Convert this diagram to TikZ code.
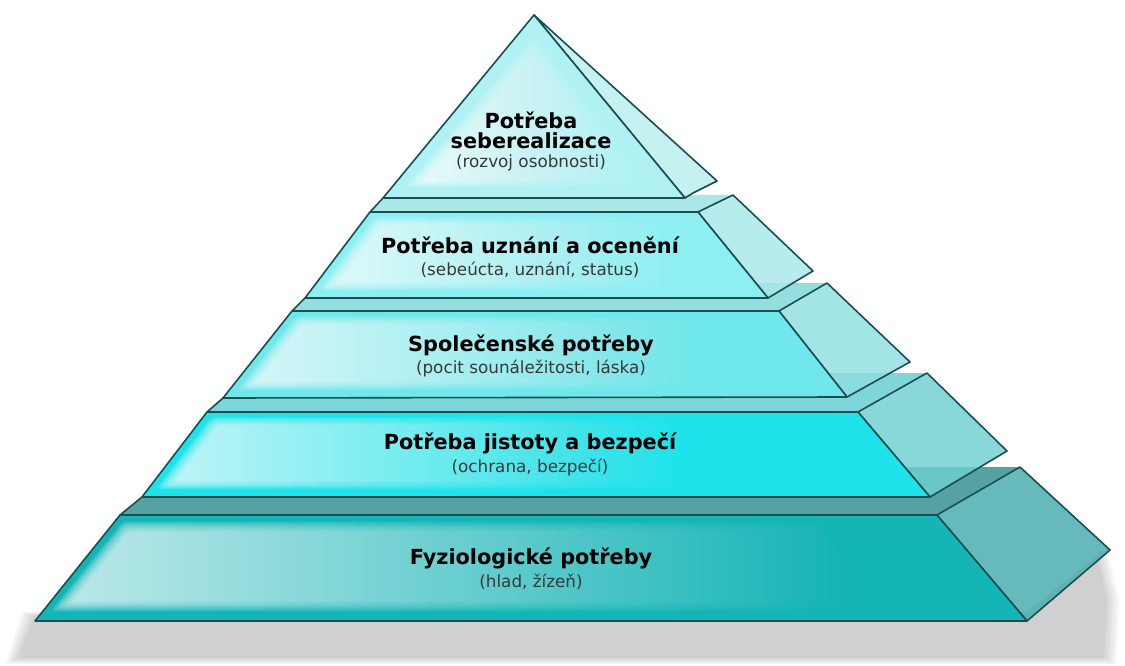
\documentclass[tikz,border=0pt]{standalone}
\usepackage{fontspec}
\setmainfont{DejaVu Sans}
\usetikzlibrary{calc}
\definecolor{edgec}{HTML}{1A4E50}
\definecolor{f1}{HTML}{B0F2F4}
\definecolor{s1}{HTML}{B8EEEE}
\definecolor{f2}{HTML}{8DEFF2}
\definecolor{p2}{HTML}{A9E7E7}
\definecolor{s2}{HTML}{A6E8EA}
\definecolor{f3}{HTML}{6FE7EB}
\definecolor{p3}{HTML}{94DEDF}
\definecolor{s3}{HTML}{8FDEE0}
\definecolor{f4}{HTML}{1FE3EA}
\definecolor{p4}{HTML}{7ED6D8}
\definecolor{s4}{HTML}{6ECFD2}
\definecolor{f5}{HTML}{13B5B7}
\definecolor{p5}{HTML}{56A2A3}
\definecolor{s5}{HTML}{45ABAD}
\tikzset{
  edgeline/.style={draw=edgec, line width=1.6pt, line join=round},
  frontface/.style={edgeline, fill=#1},
  sideface/.style={edgeline, fill=#1, fill opacity=0.82},
  platformface/.style={fill=#1},
  glosslayer/.style={left color=white, right color=#1, fill opacity=0.15, rounded corners=5pt},
  lvltitle/.style={font=\bfseries\fontsize{20.8}{24}\selectfont, text=black, inner sep=0pt},
  lvlsub/.style={font=\fontsize{16.8}{19}\selectfont, text=black!78, inner sep=0pt},
}
% #1 tl, #2 tr, #3 br, #4 bl, #5 fraction of width covered, #6 base colour
\newcommand\glossquad[6]{%
  \foreach \k in {0,...,7}{%
    \path ($(#1)!{0.06+0.014*\k}!(#4)$) coordinate (g1)
          ($(#2)!{0.06+0.014*\k}!(#3)$) coordinate (g2)
          ($(#2)!{0.91-0.014*\k}!(#3)$) coordinate (g3)
          ($(#1)!{0.91-0.014*\k}!(#4)$) coordinate (g4);
    \shade[glosslayer=#6] ($(g1)+({8+2*\k},0)$) -- ($(g1)!#5!(g2)$) -- ($(g4)!#5!(g3)$) -- ($(g4)+({8+2*\k},0)$) -- cycle;
  }}
\begin{document}
\begin{tikzpicture}[x=1pt,y=-1pt]
\useasboundingbox (0,0) rectangle (1125,666);
% coordinates
\coordinate (A) at (534,15);
\coordinate (T1l) at (383,198); \coordinate (T1r) at (685,198);
\coordinate (S1f) at (717,181); \coordinate (S1b) at (693,193);
\coordinate (L2tl) at (370,212); \coordinate (L2tr) at (698,212); \coordinate (L2br) at (768,298); \coordinate (L2bl) at (305,298);
\coordinate (L2B) at (733,195); \coordinate (L2F) at (813,271);
\coordinate (L3tl) at (292,311); \coordinate (L3tr) at (779,311); \coordinate (L3br) at (847,397); \coordinate (L3bl) at (223,398);
\coordinate (L3B) at (827,283); \coordinate (L3F) at (910,362);
\coordinate (L4tl) at (207,412); \coordinate (L4tr) at (858,412); \coordinate (L4br) at (930,497); \coordinate (L4bl) at (142,497);
\coordinate (L4B) at (927,373); \coordinate (L4F) at (1007,451);
\coordinate (L5tl) at (120,515); \coordinate (L5tr) at (937,515); \coordinate (L5br) at (1027,621); \coordinate (L5bl) at (35,621);
\coordinate (L5B) at (1020,467); \coordinate (L5F) at (1110,550);
% shadow (soft, layered)
\foreach \k in {0,...,4}{
  \fill[black, opacity=0.04] ({6+3*\k},{664-1.5*\k}) -- ({22+3*\k},{612+1*\k}) -- (1027,612) -- ({1106-2*\k},{546+3*\k}) -- ({1119-3*\k},{600}) -- ({1116-3*\k},{664-1.5*\k}) -- cycle;
}
% layer 5
\fill[platformface=p5] (L5tl) -- (L5tr) -- (L5B) -- (905,467) -- (L4br) -- (L4bl) -- cycle;
\draw[edgeline] (L4bl) -- (L5tl);
\draw[sideface=s5] (L5tr) -- (L5B) -- (L5F) -- (L5br) -- cycle;
\draw[frontface=f5] (L5tl) -- (L5tr) -- (L5br) -- (L5bl) -- cycle;
\glossquad{L5tl}{L5tr}{L5br}{L5bl}{0.85}{f5}
% layer 4
\fill[platformface=p4] (L4tl) -- (L4tr) -- (L4B) -- (828,373) -- (L3br) -- (L3bl) -- cycle;
\draw[edgeline] (L3bl) -- (L4tl);
\draw[sideface=s4] (L4tr) -- (L4B) -- (L4F) -- (L4br) -- cycle;
\draw[frontface=f4] (L4tl) -- (L4tr) -- (L4br) -- (L4bl) -- cycle;
\glossquad{L4tl}{L4tr}{L4br}{L4bl}{0.7}{f4}
% layer 3
\fill[platformface=p3] (L3tl) -- (L3tr) -- (L3B) -- (756,283) -- (L2br) -- (L2bl) -- cycle;
\draw[edgeline] (L2bl) -- (L3tl);
\draw[sideface=s3] (L3tr) -- (L3B) -- (L3F) -- (L3br) -- cycle;
\draw[frontface=f3] (L3tl) -- (L3tr) -- (L3br) -- (L3bl) -- cycle;
\glossquad{L3tl}{L3tr}{L3br}{L3bl}{0.8}{f3}
% layer 2
\fill[platformface=p2] (L2tl) -- (L2tr) -- (L2B) -- (683,195) -- (T1r) -- (T1l) -- cycle;
\draw[edgeline] (T1l) -- (L2tl);
\draw[sideface=s2] (L2tr) -- (L2B) -- (L2F) -- (L2br) -- cycle;
\draw[frontface=f2] (L2tl) -- (L2tr) -- (L2br) -- (L2bl) -- cycle;
\glossquad{L2tl}{L2tr}{L2br}{L2bl}{0.85}{f2}
% top triangle
\draw[sideface=s1] (A) -- (S1f) -- (S1b) -- (T1r) -- cycle;
\draw[frontface=f1] (A) -- (T1r) -- (T1l) -- cycle;
\foreach \k in {0,...,7}{
  \shade[glosslayer=f1] ({534-0.3*\k},{36+3*\k}) -- ({650-2.5*\k},{186-1*\k}) -- ({405+3*\k},{187-1*\k}) -- cycle;
}
% texts
\node[lvltitle] (t1a) at (531,120) {Potřeba};
\node[lvltitle] (t1b) at (531,141) {seberealizace};
\node[lvlsub] (t1c) at (531,163) {(rozvoj osobnosti)};
\node[lvltitle] (t2a) at (530,245) {Potřeba uznání a ocenění};
\node[lvlsub] (t2b) at (530,270) {(sebeúcta, uznání, status)};
\node[lvltitle] (t3a) at (531,345) {Společenské potřeby};
\node[lvlsub] (t3b) at (531,369) {(pocit sounáležitosti, láska)};
\node[lvltitle] (t4a) at (530,443) {Potřeba jistoty a bezpečí};
\node[lvlsub] (t4b) at (530,468) {(ochrana, bezpečí)};
\node[lvltitle] (t5a) at (531,558) {Fyziologické potřeby};
\node[lvlsub] (t5b) at (531,582) {(hlad, žízeň)};
\end{tikzpicture}
\end{document}
